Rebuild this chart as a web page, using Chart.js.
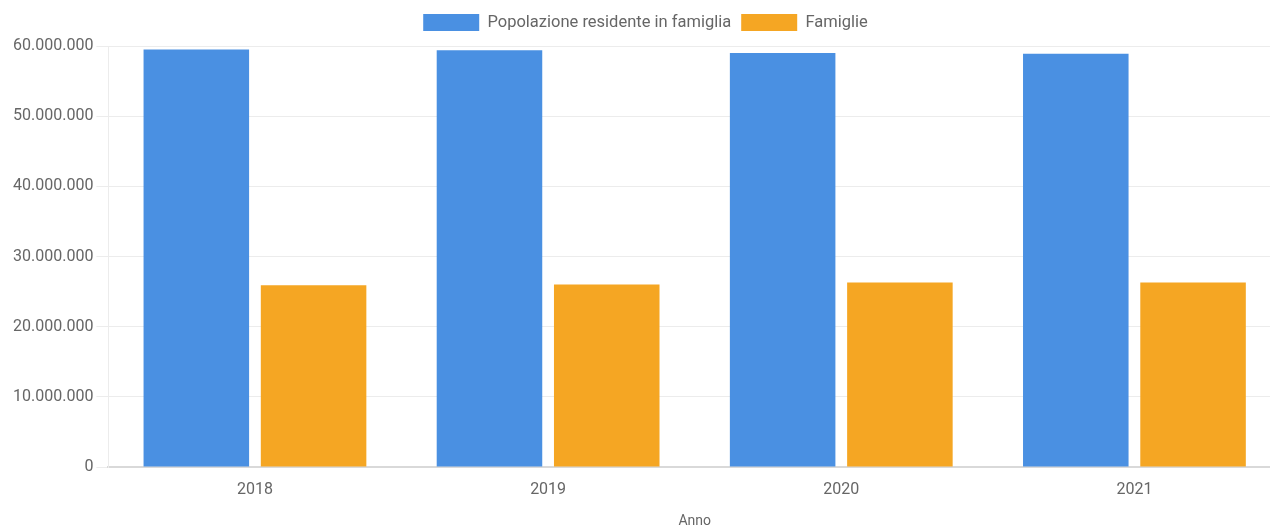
<!DOCTYPE html>
<html>
<head>
<meta charset="utf-8">
<script src="https://cdn.jsdelivr.net/npm/chart.js@4"></script>
<style>
  html, body { margin: 0; padding: 0; background: #fff; overflow: hidden; }
  #wrap { width: 1281px; height: 530px; }
</style>
</head>
<body>
<div id="wrap"><canvas id="chart"></canvas></div>
<script>
// ── Data ──────────────────────────────────────────────────────
const years = ['2018', '2019', '2020', '2021'];
const popolazione = [59500000, 59400000, 59000000, 58900000];
const famiglie = [25900000, 26000000, 26300000, 26300000];
const yTicks = [0, 10000000, 20000000, 30000000, 40000000, 50000000, 60000000];

// Italian thousands separator
function fmt(v) {
  return String(v).replace(/\B(?=(\d{3})+(?!\d))/g, '.');
}

// a bit more room under the legend
const legendGap = {
  id: 'legendGap',
  beforeInit(chart) {
    const fit = chart.legend.fit;
    chart.legend.fit = function() {
      fit.bind(chart.legend)();
      this.height += 5;
    };
  }
};

const ctx = document.getElementById('chart').getContext('2d');
new Chart(ctx, {
  type: 'bar',
  data: {
    labels: years,
    datasets: [
      { label: 'Popolazione residente in famiglia', data: popolazione, backgroundColor: '#4a90e2' },
      { label: 'Famiglie', data: famiglie, backgroundColor: '#f5a623' }
    ]
  },
  options: {
    responsive: true,
    maintainAspectRatio: false,
    animation: false,
    layout: { padding: { left: 10, right: 0, top: 4, bottom: 0 } },
    datasets: { bar: { categoryPercentage: 0.8, barPercentage: 0.9 } },
    plugins: {
      legend: {
        position: 'top',
        labels: {
          boxWidth: 56, boxHeight: 17, padding: 10,
          color: '#666', font: { family: 'Roboto', size: 16.5 }
        }
      },
      tooltip: { enabled: false }
    },
    scales: {
      x: {
        grid: { display: false, drawTicks: false },
        border: { color: '#d9d9d9', width: 2 },
        ticks: { color: '#666', font: { family: 'Roboto', size: 16 }, padding: 13 },
        title: { display: true, text: 'Anno', color: '#666', font: { family: 'Roboto', size: 14 }, padding: { top: 1, bottom: 0 } }
      },
      y: {
        min: 0, max: 60000000,
        afterBuildTicks: axis => { axis.ticks = yTicks.map(v => ({ value: v })); },
        grid: { color: '#ececec', tickLength: 12 },
        border: { color: '#ececec' },
        ticks: { color: '#666', font: { family: 'Roboto', size: 16 }, padding: 3, callback: v => fmt(v) }
      }
    }
  },
  plugins: [legendGap]
});
</script>
</body>
</html>
